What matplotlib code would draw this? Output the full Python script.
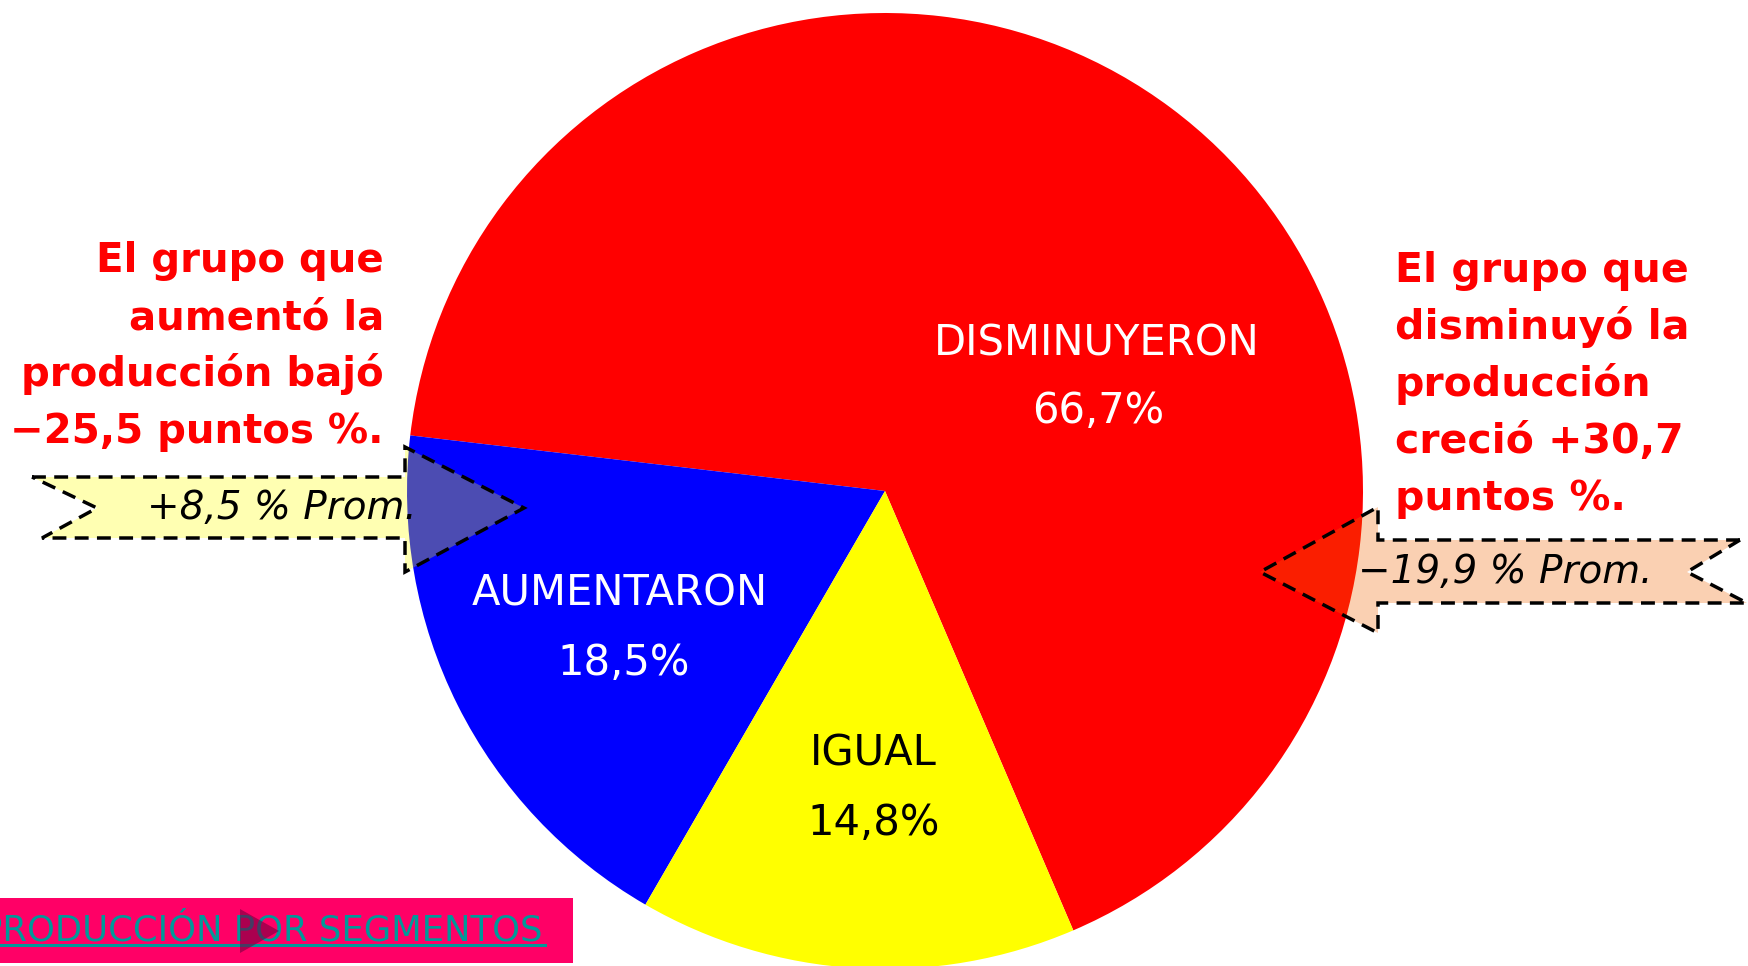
import matplotlib.pyplot as plt
from matplotlib.patches import Polygon, Rectangle

W, H = 1749, 966

labels = ['DISMINUYERON', 'AUMENTARON', 'IGUAL']
shares = [66.7, 18.5, 14.8]
share_text = ['66,7%', '18,5%', '14,8%']
slice_colors = ['#FF0000', '#0000FF', '#FFFF00']
text_colors = ['white', 'white', 'black']

left_note = ['El grupo que', 'aumentó la', 'producción bajó', '\u221225,5 puntos %.']
right_note = ['El grupo que', 'disminuyó la', 'producción', 'creció +30,7', 'puntos %.']
left_prom = '+8,5 % Prom.'
right_prom = '\u221219,9 % Prom.'
link_text = 'PRODUCCIÓN POR SEGMENTOS'

plt.rcParams['font.family'] = ['DejaVu Sans']


def Y(y):
    # pixel row -> data y (y axis points up)
    return H - y


fig = plt.figure(figsize=(W / 100, H / 100), dpi=100)
ax = fig.add_axes([0, 0, 1, 1])

ax.pie(shares, colors=slice_colors, startangle=293.2, counterclock=True,
       center=(885, Y(491)), radius=478, wedgeprops=dict(linewidth=0))
ax.set_xlim(0, W)
ax.set_ylim(0, H)
ax.set_aspect('equal')
ax.set_axis_off()

# labels inside the slices
name_pos = [(1097, 355), (620, 606), (873, 766)]
value_pos = [(1098, 423), (624, 675), (874, 835)]
for i in range(3):
    ax.text(name_pos[i][0], Y(name_pos[i][1]), labels[i], color=text_colors[i],
            fontsize=30, ha='center', va='baseline', zorder=5)
    ax.text(value_pos[i][0], Y(value_pos[i][1]), share_text[i], color=text_colors[i],
            fontsize=30, ha='center', va='baseline', zorder=5)

# side notes
for i, line in enumerate(left_note):
    ax.text(384, Y(272 + 57 * i), line, color='#FF0000', fontsize=29,
            fontweight='bold', ha='right', va='baseline')
for i, line in enumerate(right_note):
    ax.text(1395, Y(282 + 57 * i), line, color='#FF0000', fontsize=29.5,
            fontweight='bold', ha='left', va='baseline')

# dashed arrow callouts
dash = (0, (4, 2.4))
left_arrow = [(32, 477), (405, 477), (405, 447), (524, 508), (405, 572),
              (405, 538), (42, 538), (97, 508)]
ax.add_patch(Polygon([(x, Y(y)) for x, y in left_arrow], closed=True,
                     facecolor=(1, 1, 0, 0.3), edgecolor='black',
                     linewidth=2.5, linestyle=dash, zorder=4))
ax.text(282, Y(508), left_prom, fontsize=28, style='italic',
        ha='center', va='center', zorder=6)

right_arrow = [(1740, 540), (1378, 540), (1378, 507), (1260, 572), (1378, 633),
               (1378, 603), (1747, 603), (1687, 572)]
ax.add_patch(Polygon([(x, Y(y)) for x, y in right_arrow], closed=True,
                     facecolor=(0.94, 0.4, 0, 0.3), edgecolor='black',
                     linewidth=2.5, linestyle=dash, zorder=4))
ax.text(1505, Y(572), right_prom, fontsize=28, style='italic',
        ha='center', va='center', zorder=6)

# link bar at the bottom
ax.add_patch(Rectangle((0, Y(963)), 573, 65, facecolor='#FF0066',
                       edgecolor='none', zorder=7))
ax.text(543, Y(941), link_text, color='#009999', fontsize=25.5,
        ha='right', va='baseline', zorder=8)
ax.plot([0, 545], [Y(945), Y(945)], color='#009999', linewidth=2.2, zorder=8)
ax.add_patch(Polygon([(240, Y(909)), (279, Y(931)), (240, Y(953))], closed=True,
                     facecolor=(0.45, 0, 0.25, 0.6), edgecolor='none', zorder=9))

fig.savefig('out.png', dpi=100)
